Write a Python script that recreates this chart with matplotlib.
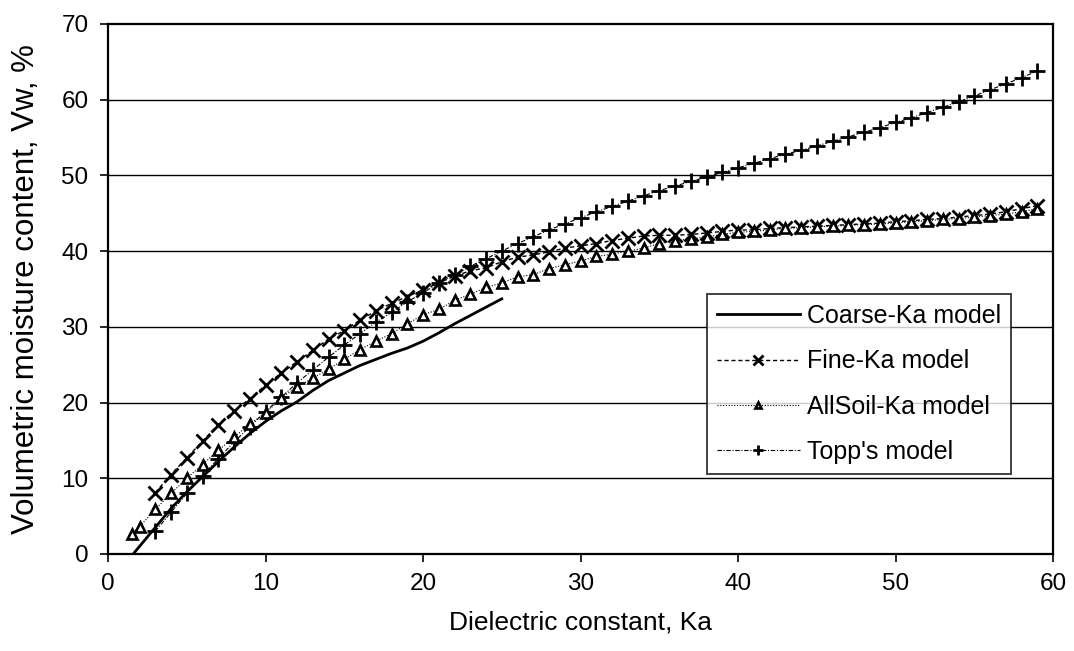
import matplotlib
matplotlib.use("Agg")
import matplotlib.pyplot as plt

plt.rcParams['font.family'] = ['Liberation Sans', 'DejaVu Sans']

# Coarse-Ka model (solid line)
coarse_ka = [1.6, 2, 3, 4, 5, 6, 7, 8, 9, 10, 11, 12, 13, 14, 15, 16, 17, 18, 19,
             20, 21, 22, 23, 24, 25]
coarse_vw = [0.0, 1.0, 3.5, 6.0, 8.2, 10.2, 12.2, 14.1, 15.9, 17.5, 18.9, 20.1, 21.6,
             22.9, 23.9, 24.9, 25.7, 26.5, 27.2, 28.1, 29.2, 30.4, 31.5, 32.6, 33.7]

# Fine-Ka model (x markers)
fine_ka = list(range(3, 60))
fine_vw = [8.1, 10.5, 12.7, 14.9, 17.1, 18.9, 20.5, 22.3, 23.9, 25.4,
           26.9, 28.4, 29.5, 30.9, 32.1, 33.1, 34.0, 34.9, 35.8, 36.7,
           37.4, 37.8, 38.6, 39.2, 39.5, 39.9, 40.4, 40.7, 41.0, 41.4,
           41.7, 42.0, 42.1, 42.1, 42.2, 42.4, 42.6, 42.8, 42.8, 43.0,
           43.1, 43.2, 43.3, 43.4, 43.5, 43.6, 43.7, 43.9, 44.0, 44.2,
           44.3, 44.5, 44.7, 44.9, 45.2, 45.6, 46.0]

# AllSoil-Ka model (triangle markers)
allsoil_ka = [1.5, 2] + list(range(3, 60))
allsoil_vw = [2.7, 3.6, 5.9, 8.0, 10.0, 11.8, 13.7, 15.4, 17.2, 18.6,
              20.6, 22.1, 23.2, 24.4, 25.7, 27.0, 28.1, 29.1, 30.4, 31.6,
              32.3, 33.5, 34.3, 35.2, 35.8, 36.6, 36.9, 37.7, 38.2, 38.7,
              39.3, 39.6, 40.0, 40.4, 41.0, 41.4, 41.6, 41.9, 42.2, 42.5,
              42.6, 42.8, 43.0, 43.1, 43.2, 43.3, 43.4, 43.5, 43.6, 43.7,
              43.9, 44.0, 44.2, 44.3, 44.5, 44.7, 44.9, 45.2, 45.6]

# Topp's model (+ markers)
topp_ka = list(range(3, 60))
topp_vw = [3.0, 5.5, 8.0, 10.3, 12.6, 14.8, 16.8, 18.8, 20.7, 22.6,
           24.3, 26.0, 27.6, 29.1, 30.6, 31.9, 33.3, 34.5, 35.8, 36.9,
           38.0, 39.0, 40.0, 41.0, 41.9, 42.8, 43.6, 44.4, 45.2, 45.9,
           46.6, 47.3, 48.0, 48.6, 49.2, 49.8, 50.4, 51.0, 51.6, 52.2,
           52.8, 53.3, 53.9, 54.5, 55.1, 55.7, 56.3, 57.0, 57.6, 58.3,
           59.0, 59.7, 60.5, 61.3, 62.1, 62.9, 63.8]

x_ticks = [0, 10, 20, 30, 40, 50, 60]
y_ticks = [0, 10, 20, 30, 40, 50, 60, 70]

fig = plt.figure(figsize=(10.74, 6.51), dpi=100)
ax = fig.add_axes([108/1074, 1 - 554/651, (1053-108)/1074, (554-24)/651])

for yv in y_ticks[1:-1]:
    ax.axhline(yv, color='black', lw=1.0, zorder=1)

ax.plot(coarse_ka, coarse_vw, color='black', lw=2.0, label='Coarse-Ka model', zorder=3)
ax.plot(fine_ka, fine_vw, color='black', lw=1.0, linestyle=(0, (3, 2)),
        marker='x', markersize=9.5, markeredgewidth=2.0, label='Fine-Ka model', zorder=4)
ax.plot(allsoil_ka, allsoil_vw, color='black', lw=0.8, linestyle=(0, (1, 1.5)),
        marker='^', markersize=6.5, markerfacecolor='white', markeredgewidth=1.9,
        label='AllSoil-Ka model', zorder=5)
ax.plot(topp_ka, topp_vw, color='black', lw=0.8, linestyle=(0, (4, 1.5, 1, 1.5)),
        marker='+', markersize=11, markeredgewidth=2.0, label="Topp's model", zorder=4)

ax.set_xlim(0, 60)
ax.set_ylim(0, 70)
ax.set_xticks(x_ticks)
ax.set_yticks(y_ticks)
ax.tick_params(direction='out', length=6, width=1.2, labelsize=17.5, pad=8)
for s in ax.spines.values():
    s.set_linewidth(1.6)
    s.set_color('black')

ax.set_xlabel('Dielectric constant, Ka', fontsize=19, labelpad=11)
ax.set_ylabel('Volumetric moisture content, Vw, %', fontsize=22.5, labelpad=15)

leg = ax.legend(loc='upper left', bbox_to_anchor=(707/1074, 1 - 294/651),
                bbox_transform=fig.transFigure, borderaxespad=0, fontsize=18,
                frameon=True, fancybox=False, edgecolor='black', handlelength=3.3,
                handletextpad=0.3, labelspacing=0.85, markerscale=0.7,
                borderpad=0.4)
leg.get_frame().set_linewidth(1.3)
leg.set_zorder(10)

fig.savefig('out.png', dpi=100, facecolor='white')
